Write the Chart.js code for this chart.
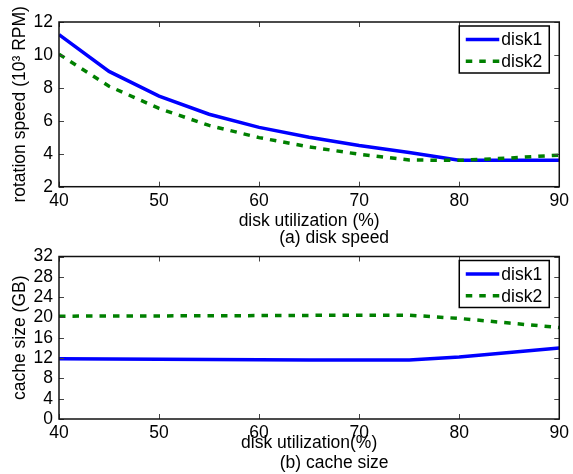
<!DOCTYPE html>
<html>
<head>
<meta charset="utf-8">
<script src="https://cdn.jsdelivr.net/npm/chart.js"></script>
<style>
  body { margin: 0; background: #fff; }
  #wrap { position: relative; width: 573px; height: 474px; }
  canvas { position: absolute; left: 0; }
</style>
</head>
<body>
<div id="wrap">
  <canvas id="speedChart" width="573" height="250" style="top:0px"></canvas>
  <canvas id="cacheChart" width="573" height="234" style="top:240px"></canvas>
</div>
<script>
var utilization = [40, 45, 50, 55, 60, 65, 70, 75, 80, 85, 90];
var seriesNames = ["disk1", "disk2"];

// rotation speed, 10^3 RPM
var speedDisk1 = [11.23, 9.0, 7.5, 6.4, 5.6, 5.0, 4.5, 4.08, 3.6, 3.6, 3.6];
var speedDisk2 = [10.05, 8.1, 6.75, 5.72, 4.98, 4.42, 3.97, 3.62, 3.6, 3.74, 3.92];

// cache size, GB
var cacheDisk1 = [11.85, 11.8, 11.75, 11.72, 11.68, 11.64, 11.6, 11.6, 12.2, 13.1, 14.0];
var cacheDisk2 = [20.25, 20.28, 20.3, 20.33, 20.36, 20.4, 20.45, 20.45, 19.8, 18.9, 18.0];

var xTicks = [40, 50, 60, 70, 80, 90];
var speedTicks = [2, 4, 6, 8, 10, 12];
var cacheTicks = [0, 4, 8, 12, 16, 20, 24, 28, 32];

var FONT = "'Liberation Sans', Arial, Helvetica, sans-serif";
var FSIZE = 17.5;
var colors = ["#0000ff", "#008000"];

function points(ys) {
  return utilization.map(function (x, i) { return { x: x, y: ys[i] }; });
}

function fixedTicks(values) {
  return function (scale) {
    scale.ticks = values.map(function (v) { return { value: v }; });
  };
}

// box around the plot, inward tick marks, legend and caption
var framePlugin = {
  id: 'frame',
  afterDatasetsDraw: function (chart, args, opts) {
    var ctx = chart.ctx, a = chart.chartArea;
    var xs = chart.scales.x, ys = chart.scales.y;
    ctx.save();

    ctx.strokeStyle = '#444';
    ctx.lineWidth = 1;
    xs.ticks.forEach(function (t) {
      var px = Math.round(xs.getPixelForValue(t.value)) + 0.5;
      ctx.beginPath();
      ctx.moveTo(px, a.bottom); ctx.lineTo(px, a.bottom - 5);
      ctx.moveTo(px, a.top); ctx.lineTo(px, a.top + 5);
      ctx.stroke();
    });
    ys.ticks.forEach(function (t) {
      var py = Math.round(ys.getPixelForValue(t.value)) + 0.5;
      ctx.beginPath();
      ctx.moveTo(a.left, py); ctx.lineTo(a.left + 5, py);
      ctx.moveTo(a.right, py); ctx.lineTo(a.right - 5, py);
      ctx.stroke();
    });

    ctx.strokeStyle = '#111';
    ctx.lineWidth = 1.5;
    ctx.strokeRect(a.left, a.top, a.right - a.left, a.bottom - a.top);

    // legend
    var bx = a.right - 100, by = a.top + 4, bw = 90, bh = 47;
    ctx.fillStyle = '#fff';
    ctx.fillRect(bx, by, bw, bh);
    ctx.strokeStyle = '#000';
    ctx.lineWidth = 1.5;
    ctx.strokeRect(bx, by, bw, bh);
    chart.data.datasets.forEach(function (ds, i) {
      var ly = by + 13.5 + i * 21.7;
      ctx.strokeStyle = ds.borderColor;
      ctx.lineWidth = ds.borderWidth;
      ctx.setLineDash(ds.borderDash || []);
      ctx.beginPath();
      ctx.moveTo(bx + 6.5, ly);
      ctx.lineTo(bx + 40, ly);
      ctx.stroke();
      ctx.setLineDash([]);
      ctx.fillStyle = '#000';
      ctx.font = FSIZE + 'px ' + FONT;
      ctx.textAlign = 'left';
      ctx.textBaseline = 'middle';
      ctx.fillText(ds.label, bx + 42, ly + 1);
    });

    // caption under the axis title
    ctx.fillStyle = '#000';
    ctx.font = FSIZE + 'px ' + FONT;
    ctx.textAlign = 'center';
    ctx.textBaseline = 'middle';
    ctx.fillText(opts.caption, (a.left + a.right) / 2 + 25, opts.captionY);

    ctx.restore();
  }
};

function makeChart(id, d1, d2, yMin, yMax, yTicks, yTitle, xTitle, opts) {
  return new Chart(document.getElementById(id), {
    type: 'line',
    data: {
      datasets: [{
        label: seriesNames[0],
        data: points(d1),
        borderColor: colors[0],
        borderWidth: 3.5,
        pointRadius: 0,
        tension: 0,
        order: 1
      }, {
        label: seriesNames[1],
        data: points(d2),
        borderColor: colors[1],
        borderWidth: 3.5,
        borderDash: [6.5, 7],
        pointRadius: 0,
        tension: 0,
        order: 0
      }]
    },
    options: {
      responsive: false,
      animation: false,
      events: [],
      layout: { padding: { left: 0, right: 10.7, top: opts.top, bottom: 0 } },
      plugins: {
        legend: { display: false },
        tooltip: { enabled: false },
        frame: { caption: opts.caption, captionY: opts.captionY }
      },
      scales: {
        x: {
          type: 'linear',
          min: 40,
          max: 90,
          afterBuildTicks: fixedTicks(xTicks),
          afterFit: function (s) { s.height = opts.xHeight; },
          grid: { display: false, drawTicks: false },
          border: { display: false },
          ticks: { color: '#000', padding: 4, autoSkip: false, maxRotation: 0, font: { family: FONT, size: FSIZE } },
          title: {
            display: true,
            text: xTitle,
            color: '#000',
            font: { family: FONT, size: FSIZE },
            padding: { top: 0, bottom: opts.xTitlePad }
          }
        },
        y: {
          min: yMin,
          max: yMax,
          afterBuildTicks: fixedTicks(yTicks),
          afterFit: function (s) { s.width = 59; },
          grid: { display: false, drawTicks: false },
          border: { display: false },
          ticks: { color: '#000', padding: 6, autoSkip: false, font: { family: FONT, size: FSIZE } },
          title: {
            display: true,
            text: yTitle,
            color: '#000',
            font: { family: FONT, size: FSIZE },
            padding: { top: 9.5, bottom: 0 }
          }
        }
      }
    },
    plugins: [framePlugin]
  });
}

makeChart('speedChart', speedDisk1, speedDisk2, 2, 12, speedTicks,
  'rotation speed (10\u00B3 RPM)', 'disk utilization (%)',
  { top: 22, xHeight: 63.3, xTitlePad: 18.5, caption: '(a) disk speed', captionY: 237.7 });

makeChart('cacheChart', cacheDisk1, cacheDisk2, 0, 32, cacheTicks,
  'cache size (GB)', 'disk utilization(%)',
  { top: 13.3, xHeight: 55, xTitlePad: 20.2, caption: '(b) cache size', captionY: 222.7 });
</script>
</body>
</html>
